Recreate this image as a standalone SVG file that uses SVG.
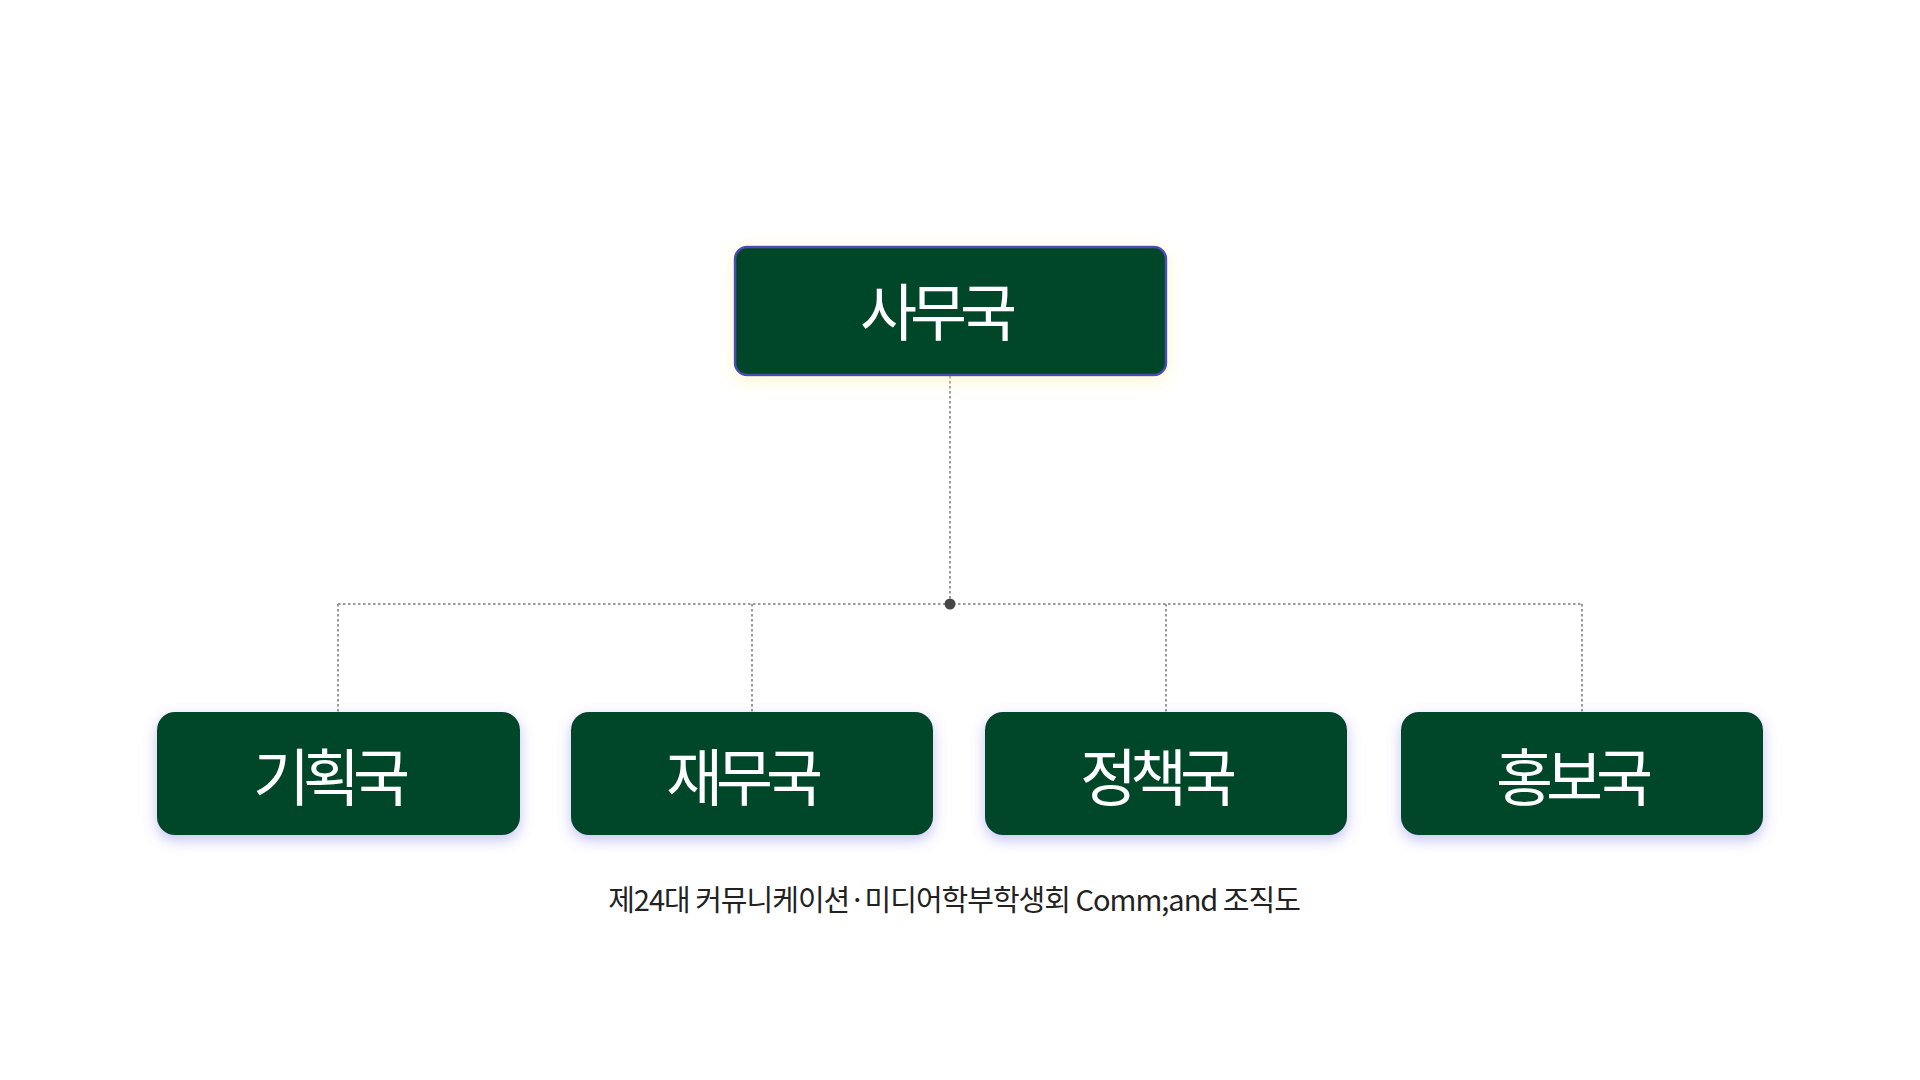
<svg xmlns="http://www.w3.org/2000/svg" width="1920" height="1080" viewBox="0 0 1920 1080">
  <defs>
    <filter id="glowTop" x="-20%" y="-40%" width="140%" height="180%">
      <feGaussianBlur in="SourceAlpha" stdDeviation="9"/>
      <feOffset dx="0" dy="4" result="b"/>
      <feFlood flood-color="#ffe98a" flood-opacity="0.45"/>
      <feComposite in2="b" operator="in"/>
      <feMerge><feMergeNode/><feMergeNode in="SourceGraphic"/></feMerge>
    </filter>
    <filter id="glowBottom" x="-20%" y="-40%" width="140%" height="180%">
      <feGaussianBlur in="SourceAlpha" stdDeviation="7"/>
      <feOffset dx="0" dy="5" result="b"/>
      <feFlood flood-color="#6a6ae0" flood-opacity="0.4"/>
      <feComposite in2="b" operator="in"/>
      <feMerge><feMergeNode/><feMergeNode in="SourceGraphic"/></feMerge>
    </filter>
  </defs>
  <style>
    .box { fill: #02472b; }
    .top { stroke: #4b4bb5; stroke-width: 2.5; }
    .label { font-family: "Noto Sans CJK KR", "Noto Sans", sans-serif; font-size: 62px; fill: #ffffff; text-anchor: middle; letter-spacing: -7px; }
    .conn { fill: none; stroke: #9a9a9a; stroke-width: 2; stroke-dasharray: 2.5 2.5; }
    .caption { font-family: "Noto Sans CJK KR", "Noto Sans", sans-serif; font-size: 29px; fill: #222222; text-anchor: middle; letter-spacing: -1px; }
  </style>
  <rect width="1920" height="1080" fill="#ffffff"/>
  <g id="connectors">
    <path class="conn" d="M950 376 V604"/>
    <path class="conn" d="M338 604 H1582"/>
    <path class="conn" d="M338 604 V712"/>
    <path class="conn" d="M752 604 V712"/>
    <path class="conn" d="M1166 604 V712"/>
    <path class="conn" d="M1582 604 V712"/>
    <circle cx="950" cy="604" r="5.5" fill="#474747"/>
  </g>
  <g id="node-samuguk">
    <rect class="box top" x="735" y="247" width="431" height="128" rx="12" filter="url(#glowTop)"/>
    <text class="label" x="935" y="336">사무국</text>
  </g>
  <g id="node-gihoekguk">
    <rect class="box" x="157" y="712" width="363" height="123" rx="18" filter="url(#glowBottom)"/>
    <text class="label" x="328" y="801">기획국</text>
  </g>
  <g id="node-jaemuguk">
    <rect class="box" x="571" y="712" width="362" height="123" rx="18" filter="url(#glowBottom)"/>
    <text class="label" x="741" y="801">재무국</text>
  </g>
  <g id="node-jeongchaekguk">
    <rect class="box" x="985" y="712" width="362" height="123" rx="18" filter="url(#glowBottom)"/>
    <text class="label" x="1155" y="801">정책국</text>
  </g>
  <g id="node-hongboguk">
    <rect class="box" x="1401" y="712" width="362" height="123" rx="18" filter="url(#glowBottom)"/>
    <text class="label" x="1571" y="801">홍보국</text>
  </g>
  <g id="caption">
    <text class="caption" x="954" y="911">제24대 커뮤니케이션·미디어학부학생회 Comm;and 조직도</text>
  </g>
</svg>
